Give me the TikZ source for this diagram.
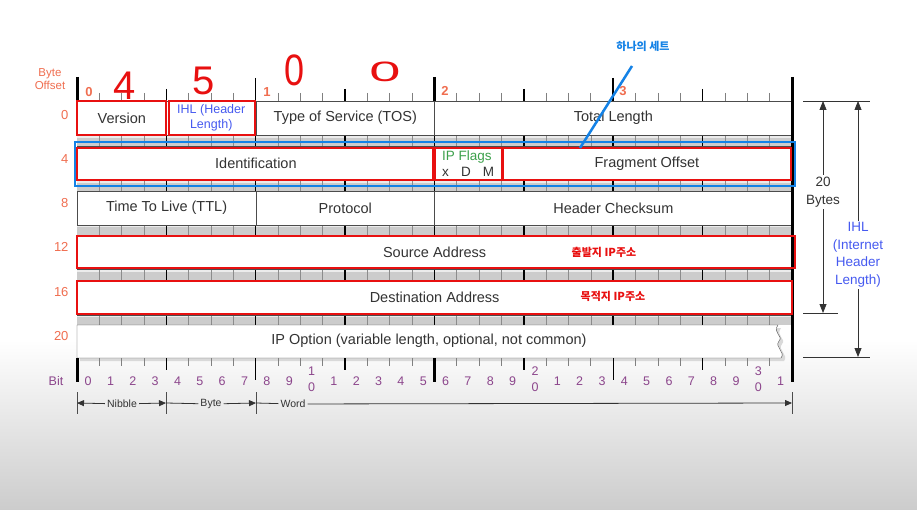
\documentclass[tikz,border=0pt]{standalone}
\usepackage{fontspec}
\setmainfont{Liberation Sans}
\newfontfamily\kor{Noto Sans CJK KR}
\usetikzlibrary{arrows.meta,positioning,calc}

\definecolor{offsetorange}{RGB}{240,110,80}
\definecolor{bitpurple}{RGB}{140,70,140}
\definecolor{ihlblue}{RGB}{70,90,240}
\definecolor{markblue}{RGB}{20,130,230}
\definecolor{markred}{RGB}{232,16,16}
\definecolor{flaggreen}{RGB}{60,160,75}

\newcommand{\bw}{22.34}

\begin{document}
\begin{tikzpicture}[x=1pt, y=-1pt,
  every node/.style={font=\fontsize{13.5}{17.5}\selectfont, text=black!80},
  field/.style={draw=black!70, fill=white, anchor=north west, inner sep=0pt, minimum height=34pt,
                font=\fontsize{14.5}{17}\selectfont},
  offs/.style={font=\fontsize{13}{14}\selectfont, text=offsetorange, anchor=east},
  bitlbl/.style={font=\fontsize{12.5}{13}\selectfont, text=bitpurple},
  smalllbl/.style={font=\fontsize{10.5}{12}\selectfont, inner sep=2pt},
  redbox/.style={draw=markred, line width=2.5pt},
  bluebox/.style={draw=markblue, line width=2.5pt},
  hand/.style={font=\fontsize{40}{40}\selectfont, text=markred, inner sep=0pt},
  dim/.style={draw=black!80, line width=0.8pt},
  dimtip/.style={-{Triangle[length=9pt,width=7pt]}},
  smalltip/.style={-{Triangle[length=7pt,width=6pt]}}
]
\useasboundingbox (0,0) rectangle (917,510);
\fill[white] (0,0) rectangle (917,510);
\shade[top color=white, bottom color=gray!40] (0,340) rectangle (917,510);

% gray strips between the rows
\foreach \ya/\yb in {135/146.5, 180/191, 224/235.5, 269/280.5, 313.5/325}{
  \fill[gray!40] (77,\ya) rectangle (792,\yb);
  \fill[gray!15] (77,\ya) rectangle (792,{\ya+3});
  \foreach \b in {1,...,31}
    \draw[black!45, line width=.6pt] ({77+\b*\bw},\ya) -- ({77+\b*\bw},\yb);
  \foreach \b in {4,8,...,28}
    \draw[black, line width=1.4pt] ({77+\b*\bw},\ya) -- ({77+\b*\bw},\yb);
}

% header rows
\node[field, minimum width={4*\bw pt}] (ver) at (77,101) {Version};
\node[field, minimum width={4*\bw pt}, align=center, font=\fontsize{12.5}{15}\selectfont, text=ihlblue]
     (ihl) at ({77+4*\bw},101) {IHL (Header\\Length)};
\node[field, minimum width={8*\bw pt}] (tos) at ({77+8*\bw},101) {Type of Service (TOS)};
\node[field, minimum width={16*\bw pt}] (tlen) at ({77+16*\bw},101) {Total Length};

\node[field, minimum width={16*\bw pt}] (ident) at (77,146.5) {Identification};
\node[field, minimum width={3*\bw pt}, align=left, font=\fontsize{13.5}{16}\selectfont]
     (flags) at ({77+16*\bw},146.5) {{\color{flaggreen}IP Flags}\\x\hspace{0.9em}D\hspace{0.9em}M};
\node[field, minimum width={13*\bw pt}] (foff) at ({77+19*\bw},146.5) {Fragment Offset};

\node[field, minimum width={8*\bw pt}] (ttl) at (77,191) {Time To Live (TTL)};
\node[field, minimum width={8*\bw pt}] (proto) at ({77+8*\bw},191) {Protocol};
\node[field, minimum width={16*\bw pt}] (csum) at ({77+16*\bw},191) {Header Checksum};

\node[field, minimum width={32*\bw pt}] (src) at (77,235.5) {Source Address};
\node[field, minimum width={32*\bw pt}] (dst) at (77,280.5) {Destination Address};

% option row with torn right end
\fill[black!15] (80,328) -- (781,328) .. controls (775,336) and (787,339) .. (782,344)
      .. controls (777,350) and (789,355) .. (784,361) -- (80,361) -- cycle;
\filldraw[fill=white, draw=black!70] (77,325) -- (778,325) .. controls (772,333) and (784,336) .. (779,341)
      .. controls (774,347) and (786,352) .. (781,358) -- (77,358) -- cycle;
\node[font=\fontsize{14.5}{17}\selectfont] (opt) at (429,341) {IP Option (variable length, optional, not common)};

% top ruler
\draw[black!70, line width=.6pt] (77,101) -- (792,101);
\foreach \b in {1,...,31}
  \draw[black!50, line width=.7pt] ({77+\b*\bw},93) -- ({77+\b*\bw},101);
\foreach \b in {4,12,20,28}
  \draw[black, line width=1.4pt] ({77+\b*\bw},89) -- ({77+\b*\bw},101);
\foreach \b in {8,24}
  \draw[black, line width=1.4pt] ({77+\b*\bw},78) -- ({77+\b*\bw},101);
\foreach \b in {0,16}
  \draw[black, line width=3pt] ({77+\b*\bw},77) -- ({77+\b*\bw},101);
\draw[black, line width=3pt] (792,77) -- (792,382);

% bottom ruler
\foreach \b in {1,...,31}
  \draw[black!50, line width=.7pt] ({77+\b*\bw},358) -- ({77+\b*\bw},366);
\foreach \b in {4,12,20,28}
  \draw[black, line width=1.4pt] ({77+\b*\bw},358) -- ({77+\b*\bw},370);
\foreach \b in {8,24}
  \draw[black, line width=1.2pt] ({77+\b*\bw},358) -- ({77+\b*\bw},380);
\foreach \b in {0,16}
  \draw[black, line width=3pt] ({77+\b*\bw},358) -- ({77+\b*\bw},382);

% byte numbers and offsets
\node[offs, anchor=center, font=\bfseries\fontsize{13}{14}\selectfont] (by0) at (89,92) {0};
\node[offs, anchor=center, font=\bfseries\fontsize{13}{14}\selectfont] (by1) at (267,92) {1};
\node[offs, anchor=center, font=\bfseries\fontsize{13}{14}\selectfont] (by2) at (445,91) {2};
\node[offs, anchor=center, font=\bfseries\fontsize{13}{14}\selectfont] (by3) at (623,91) {3};
\node[offs, anchor=center, align=center, font=\fontsize{11.5}{13}\selectfont] (boff) at (50,79) {Byte\\Offset};
\node[offs] (o0) at (72,115) {0};
\node[offs] (o4) at (72,159) {4};
\node[offs] (o8) at (72,203) {8};
\node[offs] (o12) at (72,247) {12};
\node[offs] (o16) at (72,292) {16};
\node[offs] (o20) at (72,336) {20};

% bit numbers
\node[bitlbl] (bitword) at (56,381) {Bit};
\foreach \b in {0,...,31}{
  \pgfmathtruncatemacro{\digit}{mod(\b,10)}
  \pgfmathtruncatemacro{\tens}{\b/10}
  \pgfmathtruncatemacro{\stk}{and(\digit==0,\b>0)}
  \ifnum\stk=1
    \node[bitlbl] (bt\b) at ({77+(\b+0.5)*\bw},371) {\tens};
    \node[bitlbl] (bo\b) at ({77+(\b+0.5)*\bw},387) {0};
  \else
    \node[bitlbl] (b\b) at ({77+(\b+0.5)*\bw},381) {\digit};
  \fi
}

% nibble / byte / word
\foreach \x in {77,166,256,792}
  \draw[black!70, line width=.7pt] (\x,392) -- (\x,414);
\coordinate (n0) at (77,403);
\coordinate (n1) at (166,403);
\coordinate (n2) at (256,403);
\coordinate (n3) at (792,403);
\node[smalllbl] (nib) at (122,404) {Nibble};
\node[smalllbl] (byt) at (211,404) {Byte};
\node[smalllbl] (wrd) at (293,404) {Word};
\draw[dim, smalltip] (nib) -- (n0);
\draw[dim, smalltip] (nib) -- (n1);
\draw[dim] (n1) -- (byt);
\draw[dim, smalltip] (byt) -- (n2);
\draw[dim] (n2) -- (wrd);
\draw[dim, smalltip] (wrd) -- (n3);

% header length at the right
\draw[dim] (803,101) -- (870,101);
\draw[dim] (803,313) -- (838,313);
\draw[dim] (803,357) -- (870,357);
\coordinate (bTop) at (823,101);
\coordinate (bBot) at (823,313);
\coordinate (iTop) at (858,101);
\coordinate (iBot) at (858,357);
\node[align=center, fill=white, inner sep=2pt] (bytes) at (823,192) {20\\Bytes};
\node[align=center, fill=white, inner sep=2pt, text=ihlblue] (ihllen) at (858,255) {IHL\\(Internet\\Header\\Length)};
\draw[dim, dimtip] (bytes) -- (bTop);
\draw[dim, dimtip] (bytes) -- (bBot);
\draw[dim, dimtip] (ihllen) -- (iTop);
\draw[dim, dimtip] (ihllen) -- (iBot);

% marks
\draw[bluebox] (75,142) rectangle (795,186);
\draw[redbox] (77,101) rectangle (166,135);
\draw[redbox] (169,101) rectangle (255,135);
\draw[redbox] (77,148) rectangle (433,180);
\draw[redbox] (435,148) rectangle (502,180);
\draw[redbox] (503,148) rectangle (791,180);
\draw[redbox] (77,236) rectangle (795,268);
\draw[redbox] (77,281) rectangle (792,314);

\node[font=\kor\bfseries\fontsize{11}{12}\selectfont, text=markblue] (setlbl) at (643,46) {하나의 세트};
\coordinate (setstart) at (632,66);
\coordinate (setend) at (580,148);
\draw[draw=markblue, line width=2.5pt] (setstart) -- (setend);
\node[font=\kor\bfseries\fontsize{11}{12}\selectfont, text=markred] (srcip) at (604,252) {출발지 IP주소};
\node[font=\kor\bfseries\fontsize{11}{12}\selectfont, text=markred] (dstip) at (613,296) {목적지 IP주소};

\node[hand] (h4) at (125,86) {4};
\node[hand] (h5) at (204,81) {5};
\node[hand] (h0a) at (295,70) {\scalebox{0.9}[1.1]{0}};
\node[hand] (h0b) at (385,72) {\scalebox{1.4}[0.7]{0}};
\end{tikzpicture}
\end{document}
